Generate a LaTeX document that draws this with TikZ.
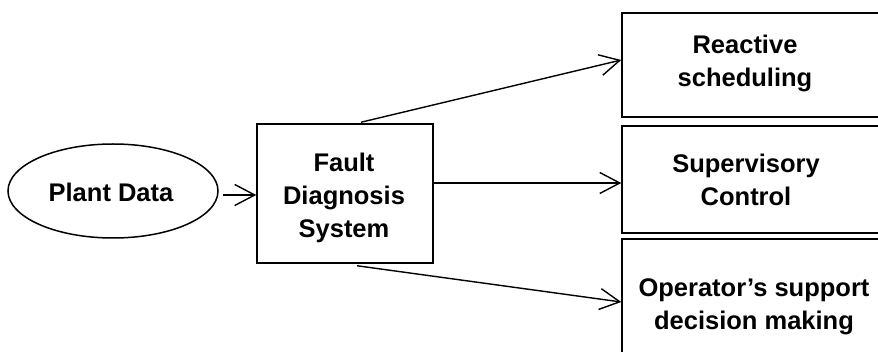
\documentclass[tikz,border=0pt]{standalone}
\usepackage{fontspec}
\setmainfont{Liberation Sans}
\usetikzlibrary{shapes.geometric,arrows.meta}
\begin{document}
\begin{tikzpicture}[x=1pt,y=-1pt,
  txt/.style={font=\fontsize{25.5}{33}\selectfont\bfseries, align=center, inner sep=0pt},
  box/.style={draw, line width=1.5pt, inner sep=0pt},
  flow/.style={line width=1.4pt, -{Straight Barb[length=20pt,width=21pt,line width=1.4pt]}}]
  \clip (0,0) rectangle (878,352);
  \useasboundingbox (0,0) rectangle (878,352);
  % source and diagnosis system
  \node[ellipse, box, minimum width=210pt, minimum height=94pt] (pd) at (113,191) {};
  \node[txt] (pdt) at (111,192) {Plant Data};
  \node[box, minimum width=176pt, minimum height=139pt] (fds) at (345,193.5) {};
  \node[txt] (fdst) at (344,198) {Fault\\Diagnosis\\System};
  % consumers of the diagnosis (boxes run off the right edge)
  \node[box, minimum width=300pt, minimum height=104pt] (rs) at (772,65) {};
  \node[txt] (rst) at (745,63) {Reactive\\scheduling};
  \node[box, minimum width=300pt, minimum height=107pt] (sc) at (772,179.5) {};
  \node[txt] (sct) at (746,180) {Supervisory\\Control};
  \node[box, minimum width=300pt, minimum height=130pt] (od) at (772,304) {};
  \node[txt] (odt) at (754,307) {Operator’s support\\decision making};
  % connectors
  \draw[flow] ([xshift=4pt,yshift=-4pt]pd.east) -- ([yshift=-4pt]pd.east -| fds.west);
  \draw[flow] ([xshift=16pt,yshift=1pt]fds.north) -- ([yshift=5pt]rs.west);
  \draw[flow] ([yshift=-3.5pt]sc.west -| fds.east) -- ([yshift=-3.5pt]sc.west);
  \draw[flow] ([xshift=12pt,yshift=-2pt]fds.south) -- ([yshift=2pt]od.west);
\end{tikzpicture}
\end{document}
